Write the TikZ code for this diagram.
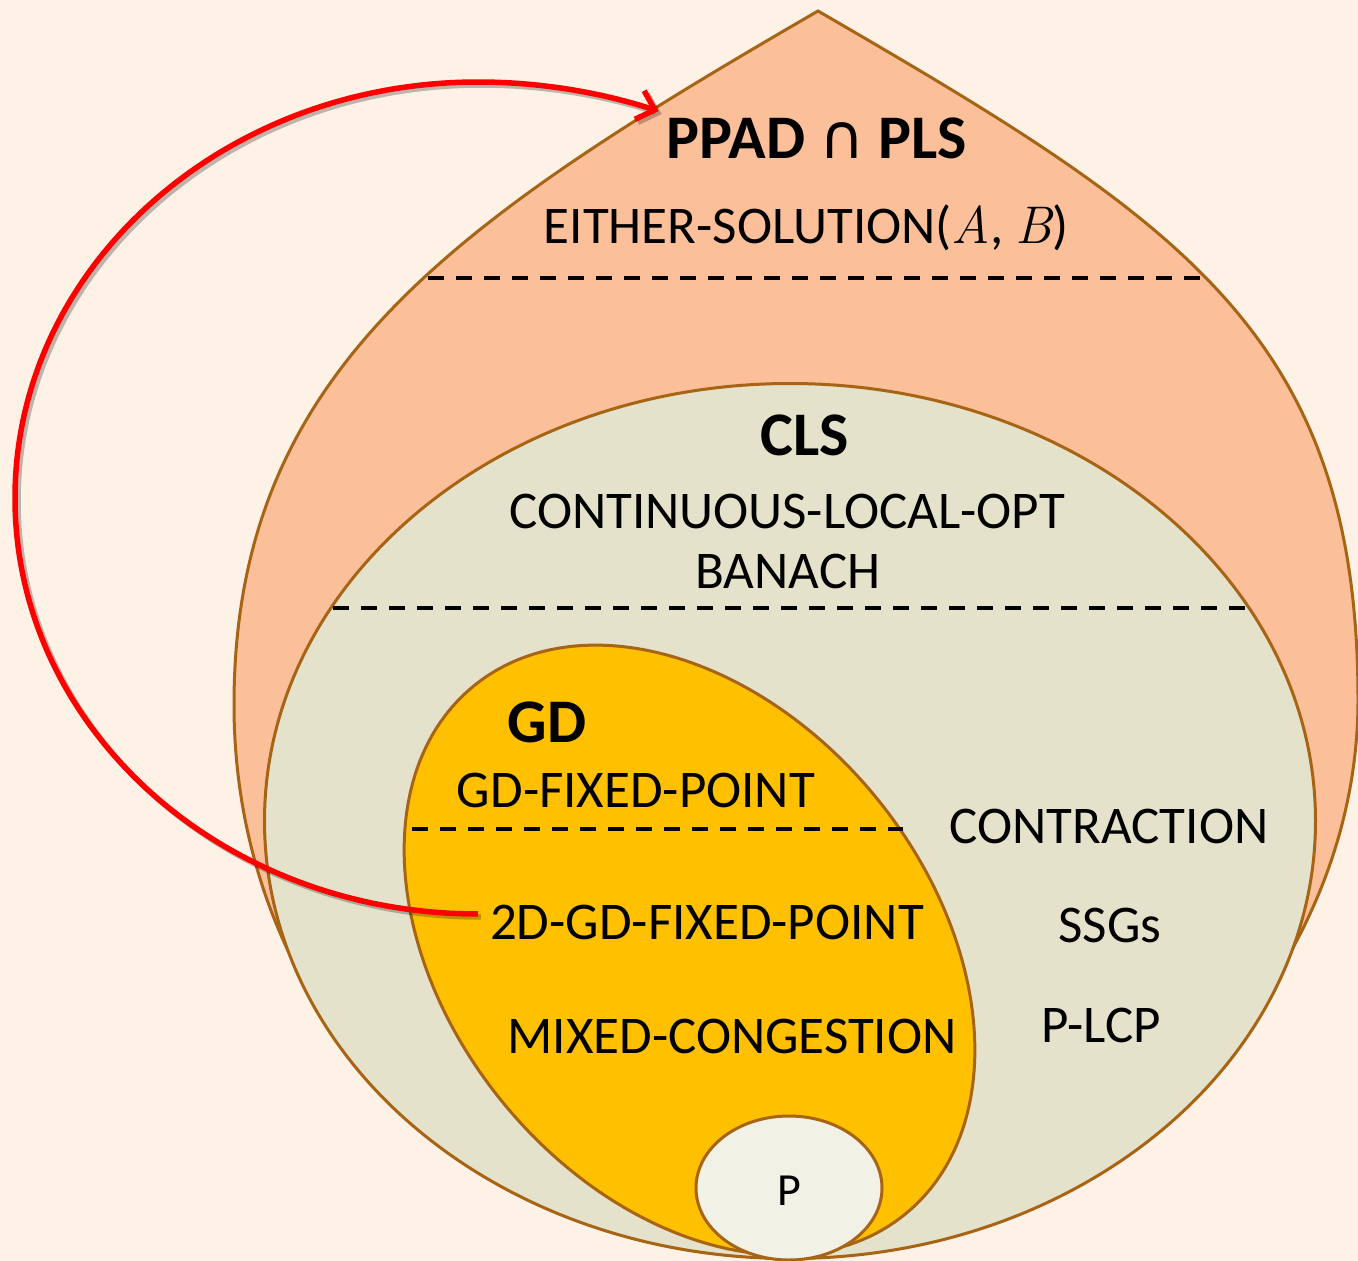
\documentclass[tikz,border=0pt]{standalone}
\usepackage{fontspec}
\setmainfont{Carlito}
\newfontfamily\lmfont{Latin Modern Roman}
\newfontfamily\symfont{DejaVu Sans}
\usetikzlibrary{arrows.meta,shapes.geometric}
\definecolor{bgcream}{HTML}{FEF1E5}
\definecolor{salmon}{HTML}{FBBF9A}
\definecolor{khaki}{HTML}{E4E2CA}
\definecolor{gold}{HTML}{FFC000}
\definecolor{pale}{HTML}{F2F1E6}
\definecolor{rim}{HTML}{A66414}
\begin{document}
\begin{tikzpicture}[x=1pt,y=-1pt,
      drop/.style={draw=rim,line width=3pt,fill=salmon},
      blob/.style={ellipse,draw=rim,line width=3pt,inner sep=0pt},
      div/.style={line width=3.5pt,dash pattern=on 16pt off 12pt},
      lab/.style={anchor=base,inner sep=0pt,font=\fontsize{53}{60}\selectfont},
      ttl/.style={anchor=base,inner sep=0pt,font=\fontsize{62}{70}\selectfont\bfseries},
      arr/.style={draw=red,line width=5.5pt,-{Straight Barb[length=16pt,width=30pt]}}]
      \useasboundingbox (0,0) rectangle (1358,1261);
      \fill[bgcream] (0,0) rectangle (1358,1261);
      \draw[drop] (818,11) .. controls (454,222) and (234,370) .. (234,705) .. controls (234,1000) and (450,1258) .. (790,1258) .. controls (1080,1258) and (1358,1000) .. (1358,700) .. controls (1358,335) and (1182,222) .. cycle;
      \node[blob,fill=khaki,minimum width=1051pt,minimum height=875pt] (cls) at (790,821) {};
      \node[blob,fill=gold,minimum width=682pt,minimum height=482pt,rotate=-50.7] (gd) at (689.5,950) {};
      \node[blob,fill=pale,minimum width=186pt,minimum height=144pt] (pset) at (789,1188) {};
      \draw[div] (428,278) -- (1200,278);
      \draw[div] (333,608) -- (1248,608);
      \draw[div] (412,829) -- (903,829);
      \node[ttl] (ppad) at (817,158) {PPAD {\symfont\mdseries ∩} PLS};
      \node[lab] (either) at (806,243) {EITHER-SOLUTION({\lmfont\itshape A}, {\lmfont\itshape B})};
      \node[ttl] (clsname) at (805,455) {CLS};
      \node[lab] (clo) at (787,528) {CONTINUOUS-LOCAL-OPT};
      \node[lab] (banach) at (788,588) {BANACH};
      \node[ttl] (gdname) at (547,742) {GD};
      \node[lab] (gdfp) at (636,807) {GD-FIXED-POINT};
      \node[lab] (contr) at (1109,843) {CONTRACTION};
      \node[lab] (gdtwo) at (707,939) {2D-GD-FIXED-POINT};
      \node[lab] (ssg) at (1110,942) {SSGs};
      \node[lab] (mixed) at (732,1053) {MIXED-CONGESTION};
      \node[lab] (plcp) at (1101,1042) {P-LCP};
      \node[lab,font=\fontsize{46}{52}\selectfont] (pname) at (789,1205) {P};
      \draw[arr,draw=black,opacity=.25,transform canvas={shift={(3pt,-3pt)}}] ([shift={(-12,-8)}]gdtwo.west) .. controls (222,914) and (15,728) .. (15,498) .. controls (15,268) and (222,82) .. (478,82) .. controls (539,82) and (599,92) .. ([shift={(-8,-6)}]ppad.north west);
      \draw[arr] ([shift={(-12,-8)}]gdtwo.west) .. controls (222,914) and (15,728) .. (15,498) .. controls (15,268) and (222,82) .. (478,82) .. controls (539,82) and (599,92) .. ([shift={(-8,-6)}]ppad.north west);
\end{tikzpicture}
\end{document}
